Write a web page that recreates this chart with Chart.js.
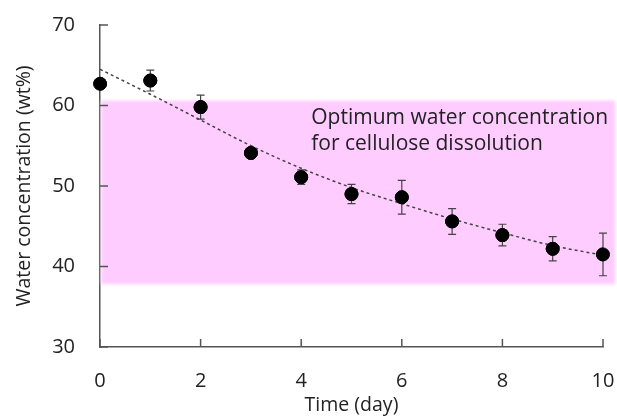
<!DOCTYPE html>
<html>
<head>
<meta charset="utf-8">
<style>
  html, body { margin: 0; padding: 0; background: #fff; }
  #wrap { width: 617px; height: 420px; }
</style>
</head>
<body>
<div id="wrap">
  <canvas id="myChart"></canvas>
</div>

<script src="https://cdn.jsdelivr.net/npm/chart.js"></script>

<script>
  // measured data
  const days = [0, 1, 2, 3, 4, 5, 6, 7, 8, 9, 10];
  const water = [62.7, 63.1, 59.8, 54.1, 51.1, 49.0, 48.6, 45.6, 43.9, 42.2, 41.5];
  const waterErr = [0.5, 1.3, 1.5, 0.5, 0.9, 1.2, 2.1, 1.6, 1.35, 1.5, 2.65];
  const trend = [64.5, 61.4, 58.2, 55.0, 52.2, 49.8, 47.8, 45.9, 44.2, 42.6, 41.4];

  const xTicks = [0, 2, 4, 6, 8, 10];
  const yTicks = [30, 40, 50, 60, 70];

  // optimum band (wt%)
  const bandLow = 37.8;
  const bandHigh = 60.6;
  const bandLabel = ['Optimum water concentration', 'for cellulose dissolution'];

  const font = '"Open Sans", "Noto Sans", sans-serif';
</script>

<script>
  // pink band behind everything
  const bandPlugin = {
    id: 'band',
    beforeDatasetsDraw(chart) {
      const { ctx, chartArea, scales } = chart;
      const y1 = scales.y.getPixelForValue(bandHigh);
      const y2 = scales.y.getPixelForValue(bandLow);
      ctx.save();
      ctx.fillStyle = 'rgb(255, 204, 255)';
      ctx.filter = 'blur(1.5px)';
      ctx.fillRect(chartArea.left + 1, y1, chart.width - 3 - chartArea.left, y2 - y1);
      ctx.filter = 'none';
      ctx.fillStyle = '#222';
      ctx.font = '21px ' + font;
      ctx.textBaseline = 'middle';
      ctx.textAlign = 'left';
      const tx = scales.x.getPixelForValue(4.2);
      ctx.fillText(bandLabel[0], tx, scales.y.getPixelForValue(58.5));
      ctx.fillText(bandLabel[1], tx, scales.y.getPixelForValue(55.2));
      ctx.restore();
    }
  };

  // error bars under the markers
  const errorBars = {
    id: 'errorBars',
    afterDatasetsDraw(chart) {
      const { ctx, scales } = chart;
      ctx.save();
      ctx.strokeStyle = '#444';
      ctx.lineWidth = 1.2;
      for (let i = 0; i < days.length; i++) {
        const x = scales.x.getPixelForValue(days[i]);
        const top = scales.y.getPixelForValue(water[i] + waterErr[i]);
        const bot = scales.y.getPixelForValue(water[i] - waterErr[i]);
        ctx.beginPath();
        ctx.moveTo(x, top); ctx.lineTo(x, bot);
        ctx.moveTo(x - 4, top); ctx.lineTo(x + 4, top);
        ctx.moveTo(x - 4, bot); ctx.lineTo(x + 4, bot);
        ctx.stroke();
      }
      // redraw markers on top of the bars
      const meta = chart.getDatasetMeta(1);
      meta.data.forEach(p => p.draw(ctx, chart.chartArea));
      ctx.restore();
    }
  };

  // ticks pointing into the plot
  const innerTicks = {
    id: 'innerTicks',
    afterDraw(chart) {
      const { ctx, chartArea, scales } = chart;
      ctx.save();
      ctx.strokeStyle = '#555';
      ctx.lineWidth = 1.5;
      ctx.beginPath();
      xTicks.forEach(v => {
        const x = scales.x.getPixelForValue(v);
        ctx.moveTo(x, chartArea.bottom); ctx.lineTo(x, chartArea.bottom - 8);
      });
      yTicks.forEach(v => {
        const y = scales.y.getPixelForValue(v);
        ctx.moveTo(chartArea.left, y); ctx.lineTo(chartArea.left + 8, y);
      });
      ctx.stroke();
      ctx.restore();
    }
  };

  const ctx = document.getElementById('myChart');

  new Chart(ctx, {
    type: 'scatter',
    data: {
      datasets: [
        {
          type: 'line',
          data: days.map((d, i) => ({ x: d, y: trend[i] })),
          borderColor: '#444',
          borderWidth: 1.5,
          borderDash: [3, 3],
          pointRadius: 0,
          cubicInterpolationMode: 'monotone',
          fill: false
        },
        {
          data: days.map((d, i) => ({ x: d, y: water[i] })),
          backgroundColor: '#000',
          borderColor: '#000',
          pointRadius: 6.5,
          pointHoverRadius: 6.5
        }
      ]
    },
    options: {
      responsive: true,
      maintainAspectRatio: false,
      animation: false,
      layout: { padding: { top: 25, right: 14, bottom: 0, left: 0 } },
      plugins: {
        legend: { display: false },
        tooltip: { enabled: false }
      },
      scales: {
        x: {
          type: 'linear',
          min: 0,
          max: 10,
          afterBuildTicks: s => { s.ticks = xTicks.map(v => ({ value: v })); },
          afterFit: s => { s.height = 73; s.paddingLeft = 0; s.paddingRight = 0; },
          grid: { display: false, drawTicks: false },
          border: { display: true, color: '#555', width: 1.5 },
          ticks: { color: '#222', padding: 22, font: { family: font, size: 20 } },
          title: {
            display: true,
            text: 'Time (day)',
            color: '#222',
            padding: { top: 0, bottom: 3 },
            font: { family: font, size: 19.5 }
          }
        },
        y: {
          min: 30,
          max: 70,
          afterBuildTicks: s => { s.ticks = yTicks.map(v => ({ value: v })); },
          afterFit: s => { s.width = 100; s.paddingTop = 0; s.paddingBottom = 0; },
          grid: { display: false, drawTicks: false },
          border: { display: true, color: '#555', width: 1.5 },
          ticks: { color: '#222', padding: 25, font: { family: font, size: 20 } },
          title: {
            display: true,
            text: 'Water concentration (wt%)',
            color: '#222',
            padding: { top: 13, bottom: 0 },
            font: { family: font, size: 19.5 }
          }
        }
      }
    },
    plugins: [bandPlugin, errorBars, innerTicks]
  });
</script>
</body>
</html>
